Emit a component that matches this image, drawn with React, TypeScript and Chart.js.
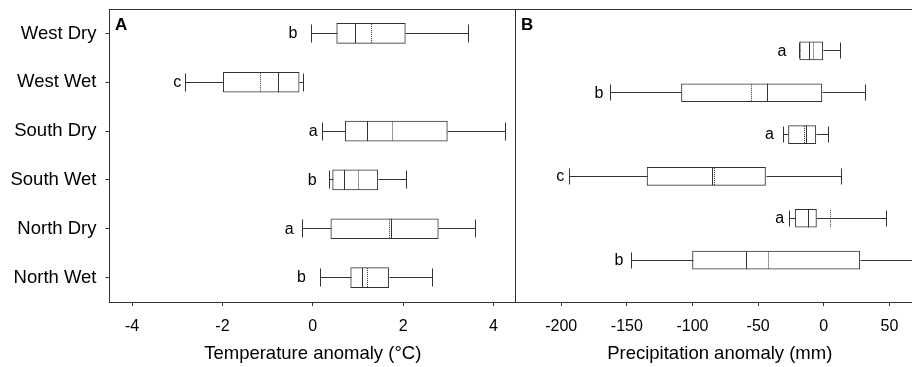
import React, { useEffect, useRef } from 'react';
import { Chart, registerables } from 'chart.js';

Chart.register(...registerables);

const FONT = "'Liberation Sans', Arial, Helvetica, sans-serif";
const INK = '#333333';
const TEXT = '#000000';

// ---- Data ----
const categories = ['West Dry', 'West Wet', 'South Dry', 'South Wet', 'North Dry', 'North Wet'];

// Panel A: temperature anomaly (°C)
const tempLow = [-0.04, -2.83, 0.2, 0.35, -0.23, 0.15];
const tempQ1 = [0.53, -1.98, 0.72, 0.44, 0.4, 0.84];
const tempMedian = [0.94, -0.78, 1.21, 0.7, 1.74, 1.1];
const tempMean = [1.29, -1.17, 1.76, 1.0, 1.69, 1.21];
const tempQ3 = [2.05, -0.3, 2.98, 1.44, 2.78, 1.68];
const tempHigh = [3.44, -0.22, 4.25, 2.06, 3.6, 2.65];
const tempLetters = ['b', 'c', 'a', 'b', 'a', 'b'];
const tempLetterAt = [-0.44, -3.0, 0.01, -0.01, -0.52, -0.25];
const tempTicks = [-4, -2, 0, 2, 4];

// Panel B: precipitation anomaly (mm)
const precipLow = [-18.8, -162.5, -31.0, -194.0, -26.7, -146.5];
const precipQ1 = [-18.3, -108.4, -26.9, -134.6, -21.8, -100.0];
const precipMedian = [-11.1, -43.6, -13.2, -85.1, -12.4, -59.2];
const precipMean = [-8.6, -55.4, -15.0, -83.8, 4.8, -42.4];
const precipQ3 = [-0.8, -1.5, -6.1, -44.4, -5.6, 27.4];
const precipHigh = [12.2, 31.2, 3.3, 12.9, 47.2, 75.0];
const precipLetters = ['a', 'b', 'a', 'c', 'a', 'b'];
const precipLetterAt = [-31.8, -171.2, -41.4, -200.7, -33.6, -156.0];
const precipTicks = [-200, -150, -100, -50, 0, 50];

type Stats = {
  low: number[];
  q1: number[];
  med: number[];
  mean: number[];
  q3: number[];
  high: number[];
  letters: string[];
  letterAt: number[];
};

function extrasPlugin(stats: Stats, indexOffset: number, panel: string, rightBorder: boolean) {
  return {
    id: 'boxExtras' + panel,
    afterDatasetsDraw(chart: any) {
      const { ctx, chartArea } = chart;
      const xs = chart.scales.x;
      const meta = chart.getDatasetMeta(0);
      const px = (v: number) => Math.round(xs.getPixelForValue(v)) + 0.5;
      ctx.save();
      ctx.beginPath();
      ctx.rect(chartArea.left, chartArea.top, chartArea.right - chartArea.left, chartArea.bottom - chartArea.top);
      ctx.clip();
      ctx.strokeStyle = INK;
      ctx.lineWidth = 1;
      stats.q1.forEach((_, i) => {
        const el = meta.data[i + indexOffset];
        if (!el) return;
        const yc = el.y;
        const y = Math.round(yc - 0.5) + 0.5;
        const h = (el.height || 18) / 2;
        const xl = px(stats.low[i]);
        const x1 = px(stats.q1[i]);
        const xm = px(stats.med[i]);
        const xa = px(stats.mean[i]);
        const x3 = px(stats.q3[i]);
        const xh = px(stats.high[i]);
        const capH = h - 1;
        ctx.setLineDash([]);
        ctx.beginPath();
        ctx.moveTo(xl, y);
        ctx.lineTo(x1, y);
        ctx.moveTo(x3, y);
        ctx.lineTo(xh, y);
        ctx.moveTo(xl, y - capH);
        ctx.lineTo(xl, y + capH);
        ctx.moveTo(xh, y - capH);
        ctx.lineTo(xh, y + capH);
        ctx.moveTo(xm, yc - h);
        ctx.lineTo(xm, yc + h);
        ctx.stroke();
        ctx.setLineDash([1, 1]);
        ctx.beginPath();
        ctx.moveTo(xa, yc - h + 0.5);
        ctx.lineTo(xa, yc + h - 0.5);
        ctx.stroke();
      });
      ctx.setLineDash([]);
      ctx.fillStyle = TEXT;
      ctx.font = `16px ${FONT}`;
      ctx.textAlign = 'center';
      ctx.textBaseline = 'middle';
      stats.letters.forEach((t, i) => {
        const el = meta.data[i + indexOffset];
        if (!el) return;
        ctx.fillText(t, xs.getPixelForValue(stats.letterAt[i]), el.y + 0.5);
      });
      ctx.restore();
    },
    afterDraw(chart: any) {
      const { ctx, chartArea } = chart;
      ctx.save();
      ctx.strokeStyle = INK;
      ctx.lineWidth = 1;
      ctx.beginPath();
      ctx.moveTo(chartArea.left, Math.round(chartArea.top) + 0.5);
      ctx.lineTo(chartArea.right, Math.round(chartArea.top) + 0.5);
      if (rightBorder) {
        const xr = Math.round(chartArea.right) - 0.5;
        ctx.moveTo(xr, chartArea.top);
        ctx.lineTo(xr, chartArea.bottom + 0.5);
      }
      ctx.stroke();
      ctx.fillStyle = TEXT;
      ctx.font = `bold 17px ${FONT}`;
      ctx.textAlign = 'left';
      ctx.textBaseline = 'alphabetic';
      ctx.fillText(panel, chartArea.left + 5.5, chartArea.top + 20.5);
      ctx.restore();
    },
  };
}

type PanelCfg = {
  labels: string[];
  bars: ([number, number] | null)[];
  ticksArr: number[];
  min: number;
  max: number;
  title: string;
  barThickness: number;
  yWidth: number;
  showYLabels: boolean;
  categoryOffset: boolean;
  stats: Stats;
  indexOffset: number;
  panel: string;
  rightBorder: boolean;
};

function buildConfig(p: PanelCfg): any {
  return {
    type: 'bar',
    data: {
      labels: p.labels,
      datasets: [
        {
          data: p.bars,
          backgroundColor: '#ffffff',
          borderColor: INK,
          borderWidth: 1,
          borderSkipped: false,
          barThickness: p.barThickness,
        },
      ],
    },
    options: {
      indexAxis: 'y',
      responsive: false,
      maintainAspectRatio: false,
      devicePixelRatio: 1,
      animation: false,
      layout: { padding: { top: 9, left: 0, right: 0, bottom: 0 } },
      plugins: {
        legend: { display: false },
        tooltip: { enabled: false },
      },
      scales: {
        x: {
          type: 'linear',
          min: p.min,
          max: p.max,
          afterBuildTicks: (s: any) => {
            s.ticks = p.ticksArr.map((v) => ({ value: v }));
          },
          afterFit: (s: any) => {
            s.height = 65;
            s.paddingLeft = 0;
            s.paddingRight = 0;
          },
          grid: { display: true, drawOnChartArea: false, drawTicks: true, tickLength: 4, color: INK },
          border: { display: true, color: INK, width: 1 },
          ticks: {
            font: { family: FONT, size: 16 },
            color: TEXT,
            padding: 11,
            maxRotation: 0,
            autoSkip: false,
            callback: (v: any) => String(v),
          },
          title: {
            display: true,
            text: p.title,
            font: { family: FONT, size: 18.5 },
            color: TEXT,
            padding: { top: 0, bottom: 2 },
          },
        },
        y: {
          type: 'category',
          offset: p.categoryOffset,
          afterFit: (s: any) => {
            s.width = p.yWidth;
            s.paddingTop = 0;
            s.paddingBottom = 0;
          },
          grid: {
            display: true,
            offset: false,
            drawOnChartArea: false,
            drawTicks: p.showYLabels,
            tickLength: 4,
            color: INK,
          },
          border: { display: true, color: INK, width: 1 },
          ticks: {
            display: p.showYLabels,
            font: { family: FONT, size: 18.5 },
            color: TEXT,
            padding: 9,
            autoSkip: false,
          },
        },
      },
    },
    plugins: [extrasPlugin(p.stats, p.indexOffset, p.panel, p.rightBorder)],
  };
}

export default function App() {
  const refA = useRef<HTMLCanvasElement>(null);
  const refB = useRef<HTMLCanvasElement>(null);

  useEffect(() => {
    const statsA: Stats = {
      low: tempLow,
      q1: tempQ1,
      med: tempMedian,
      mean: tempMean,
      q3: tempQ3,
      high: tempHigh,
      letters: tempLetters,
      letterAt: tempLetterAt,
    };
    const statsB: Stats = {
      low: precipLow,
      q1: precipQ1,
      med: precipMedian,
      mean: precipMean,
      q3: precipQ3,
      high: precipHigh,
      letters: precipLetters,
      letterAt: precipLetterAt,
    };
    const barsA = categories.map((_, i) => [tempQ1[i], tempQ3[i]] as [number, number]);
    const barsB: ([number, number] | null)[] = [
      null,
      ...categories.map((_, i) => [precipQ1[i], precipQ3[i]] as [number, number]),
      null,
    ];
    const a = new Chart(
      refA.current as HTMLCanvasElement,
      buildConfig({
        labels: categories,
        bars: barsA,
        ticksArr: tempTicks,
        min: -4.5,
        max: 4.5,
        title: 'Temperature anomaly (°C)',
        barThickness: 20,
        yWidth: 109.5,
        showYLabels: true,
        categoryOffset: true,
        stats: statsA,
        indexOffset: 0,
        panel: 'A',
        rightBorder: true,
      })
    );
    const b = new Chart(
      refB.current as HTMLCanvasElement,
      buildConfig({
        labels: ['', ...categories, ''],
        bars: barsB,
        ticksArr: precipTicks,
        min: -234.8,
        max: 76.3,
        title: 'Precipitation anomaly (mm)',
        barThickness: 18,
        yWidth: 7.5,
        showYLabels: false,
        categoryOffset: false,
        stats: statsB,
        indexOffset: 1,
        panel: 'B',
        rightBorder: false,
      })
    );
    return () => {
      a.destroy();
      b.destroy();
    };
  }, []);

  return (
    <div
      style={{
        position: 'fixed',
        left: 0,
        top: 0,
        width: 912,
        height: 367,
        overflow: 'hidden',
        background: '#ffffff',
      }}
    >
      <canvas
        ref={refA}
        width={516}
        height={367}
        style={{ position: 'absolute', left: 0, top: 0, width: 516, height: 367, display: 'block' }}
      />
      <canvas
        ref={refB}
        width={416}
        height={367}
        style={{ position: 'absolute', left: 508, top: 0, width: 416, height: 367, display: 'block' }}
      />
    </div>
  );
}
